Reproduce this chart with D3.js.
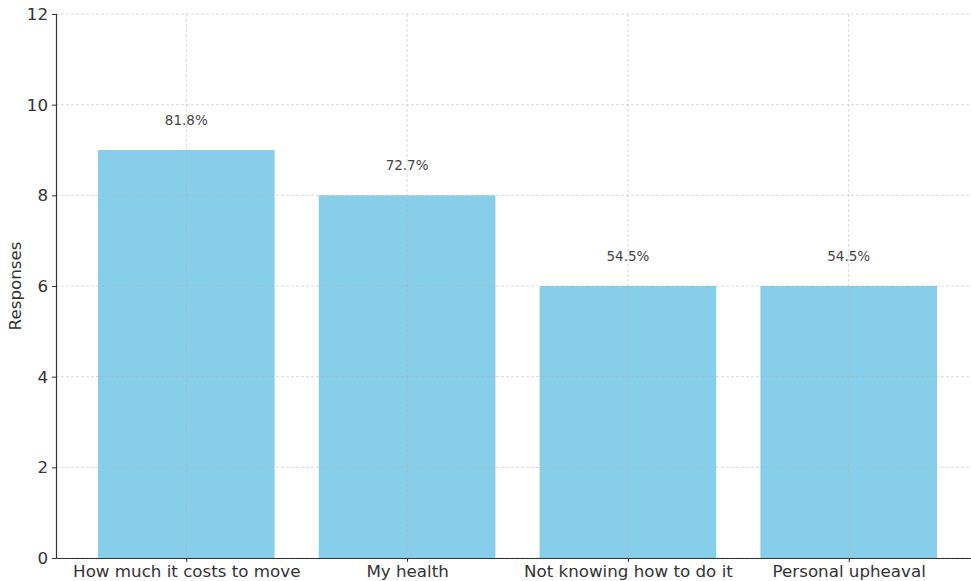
<!DOCTYPE html>
<html><head><meta charset="utf-8">
<script src="https://cdn.jsdelivr.net/npm/d3@7"></script>
<style>body{margin:0;background:#fff;} svg{display:block;font-family:"DejaVu Sans",sans-serif;}</style>
</head><body>
<script>
const categories = ["How much it costs to move", "My health", "Not knowing how to do it", "Personal upheaval"];
const values = [9, 8, 6, 6];
const percentLabels = ["81.8%", "72.7%", "54.5%", "54.5%"];
const yTicks = [0, 2, 4, 6, 8, 10, 12];

const W = 971, H = 581;
const mLeft = 56, mTop = 14, mBottom = 558, mRight = 979;
const svg = d3.select("body").append("svg").attr("width", W).attr("height", H);

const x = d3.scaleLinear().domain([-0.59, 3.59]).range([mLeft, mRight]);
const y = d3.scaleLinear().domain([0, 12]).range([mBottom, mTop]);
const bw = x(0.8) - x(0);

// bars
svg.selectAll("rect.bar").data(values).enter().append("rect")
  .attr("x", (d, i) => x(i - 0.4)).attr("width", bw)
  .attr("y", d => y(d)).attr("height", d => y(0) - y(d))
  .attr("fill", "#87CEEB");

// grid
const g = svg.append("g").attr("stroke", "#b0b0b0").attr("stroke-opacity", 0.6)
  .attr("stroke-dasharray", "3,2").attr("stroke-width", 0.8);
yTicks.forEach(t => g.append("line").attr("x1", mLeft).attr("x2", mRight).attr("y1", y(t)).attr("y2", y(t)));
categories.forEach((c, i) => g.append("line").attr("x1", x(i)).attr("x2", x(i)).attr("y1", mTop).attr("y2", mBottom));

// labels
svg.selectAll("text.pct").data(values).enter().append("text")
  .attr("x", (d, i) => x(i)).attr("y", d => y(d + 0.55))
  .attr("text-anchor", "middle").attr("font-size", 13.5).attr("fill", "#444")
  .text((d, i) => percentLabels[i]);

// axes
const fs = 16.7;
const yAxis = d3.axisLeft(y).tickValues(yTicks).tickSize(4).tickPadding(4);
const ya = svg.append("g").attr("transform", `translate(${mLeft},0)`).call(yAxis);
ya.selectAll("text").attr("font-size", fs).attr("fill", "#333").style("font-family", "DejaVu Sans");
ya.select(".domain").attr("stroke", "#333").attr("stroke-width", 1.2);
ya.selectAll(".tick line").attr("stroke", "#333");

const xAxis = d3.axisBottom(x).tickValues(d3.range(categories.length)).tickFormat(i => categories[i]).tickSize(4).tickPadding(3).tickSizeOuter(0);
const xa = svg.append("g").attr("transform", `translate(0,${mBottom})`).call(xAxis);
xa.selectAll("text").attr("font-size", fs).attr("fill", "#333").style("font-family", "DejaVu Sans");
xa.select(".domain").attr("stroke", "#333").attr("stroke-width", 1.2);
xa.selectAll(".tick line").attr("stroke", "#333");

svg.append("text").attr("transform", `translate(21,${(mTop + mBottom) / 2}) rotate(-90)`)
  .attr("text-anchor", "middle").attr("font-size", fs).attr("fill", "#333").text("Responses");
</script>
</body></html>
